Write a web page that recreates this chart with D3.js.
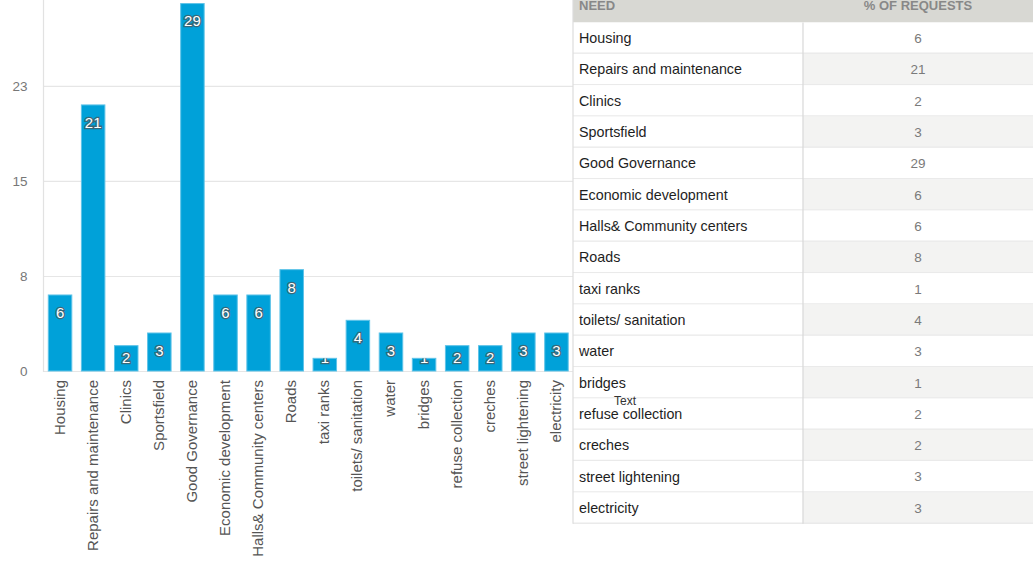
<!DOCTYPE html>
<html>
<head>
<meta charset="utf-8">
<script src="https://cdn.jsdelivr.net/npm/d3@7"></script>
<style>
  html, body { margin: 0; padding: 0; background: #fff; }
  svg { display: block; font-family: "Liberation Sans", Arial, Helvetica, sans-serif; }
</style>
</head>
<body>
<svg id="chart" width="1033" height="573"></svg>
<script>
// Community needs and share of requests
const categories = [
  "Housing", "Repairs and maintenance", "Clinics", "Sportsfield", "Good Governance",
  "Economic development", "Halls& Community centers", "Roads", "taxi ranks",
  "toilets/ sanitation", "water", "bridges", "refuse collection", "creches",
  "street lightening", "electricity"
];
const values = [6, 21, 2, 3, 29, 6, 6, 8, 1, 4, 3, 1, 2, 2, 3, 3];
const yTickValues = [0, 7.5, 15, 22.5];
const tableHeaders = ["NEED", "% OF REQUESTS"];
const tableNote = "Text";

const svg = d3.select("#chart");

// ---- bar chart ----
const plot = { left: 43.5, right: 573, base: 371 };

const x = d3.scaleBand()
  .domain(categories)
  .range([plot.left, plot.right])
  .paddingInner(0.29)
  .paddingOuter(0.145);

const y = d3.scaleLinear()
  .domain([0, 30])
  .range([plot.base, plot.base - 30 * 12.67]);

// horizontal grid lines
const yAxis = d3.axisLeft(y)
  .tickValues(yTickValues)
  .tickFormat(d3.format(".0f"))
  .tickSize(-(plot.right - plot.left))
  .tickPadding(16);

const gy = svg.append("g")
  .attr("transform", `translate(${plot.left},0)`)
  .call(yAxis);
gy.select(".domain").remove();
gy.selectAll(".tick line").attr("stroke", "#e6e6e6").attr("stroke-width", 1.2);
gy.selectAll(".tick text")
  .attr("fill", "#777")
  .style("font-size", "13.5px")
  .style("font-family", "'Liberation Sans', Arial, sans-serif");

// vertical axis rule
svg.append("line")
  .attr("x1", plot.left).attr("x2", plot.left)
  .attr("y1", 0).attr("y2", plot.base + 1)
  .attr("stroke", "#e2e2e2").attr("stroke-width", 1.2);

// bars
const defs = svg.append("defs");
const bars = svg.append("g");

categories.forEach((c, i) => {
  const v = values[i];
  const bx = x(c), bw = x.bandwidth();
  const top = y(v), h = y(0) - y(v);
  bars.append("rect")
    .attr("x", bx).attr("y", top)
    .attr("width", bw).attr("height", h)
    .attr("fill", "#00a1d9")
    .attr("stroke", "#5ec3e8")
    .attr("stroke-width", 1);

  defs.append("clipPath").attr("id", "clip" + i)
    .append("rect")
    .attr("x", bx).attr("y", top)
    .attr("width", bw).attr("height", h);

  const ly = Math.min(top + 17.5, y(0) - 13);
  bars.append("text")
    .attr("clip-path", `url(#clip${i})`)
    .attr("x", bx + bw / 2)
    .attr("y", ly)
    .attr("dy", "0.36em")
    .attr("text-anchor", "middle")
    .attr("fill", "#fff")
    .attr("stroke", "rgba(80,80,80,0.7)")
    .attr("stroke-width", 2.6)
    .attr("paint-order", "stroke")
    .style("font-size", "15px")
    .text(v);
});

// category labels, rotated
const xAxis = d3.axisBottom(x).tickSize(0).tickPadding(0);
const gx = svg.append("g")
  .attr("transform", `translate(0,${plot.base})`)
  .call(xAxis);
gx.select(".domain").remove();
gx.selectAll(".tick text")
  .attr("transform", "translate(0,9) rotate(-90)")
  .attr("text-anchor", "end")
  .attr("x", 0)
  .attr("y", 0)
  .attr("dy", "0.3em")
  .attr("fill", "#555")
  .style("font-size", "15px")
  .style("font-family", "'Liberation Sans', Arial, sans-serif");

// ---- data table ----
const table = { left: 573, right: 1033, headerH: 22.5, rowH: 31.33, divider: 803 };
const tg = svg.append("g");

tg.append("rect")
  .attr("x", table.left).attr("y", 0)
  .attr("width", table.right - table.left).attr("height", table.headerH)
  .attr("fill", "#d8d8d3");

tg.append("text")
  .attr("x", table.left + 6).attr("y", 9.5)
  .attr("fill", "#888")
  .style("font-size", "13px")
  .style("font-weight", "bold")
  .text(tableHeaders[0]);
tg.append("text")
  .attr("x", (table.divider + table.right) / 2).attr("y", 9.5)
  .attr("text-anchor", "middle")
  .attr("fill", "#888")
  .style("font-size", "13px")
  .style("font-weight", "bold")
  .text(tableHeaders[1]);

const rowY = d3.scaleBand()
  .domain(categories)
  .range([table.headerH, table.headerH + table.rowH * categories.length]);

const rows = tg.selectAll("g.row")
  .data(categories)
  .join("g")
  .attr("class", "row")
  .attr("transform", d => `translate(0,${rowY(d)})`);

rows.append("rect")
  .attr("x", table.left).attr("y", 0)
  .attr("width", table.divider - table.left).attr("height", table.rowH)
  .attr("fill", "#fff");
rows.append("rect")
  .attr("x", table.divider).attr("y", 0)
  .attr("width", table.right - table.divider).attr("height", table.rowH)
  .attr("fill", (d, i) => i % 2 ? "#f3f3f2" : "#fff");
rows.append("line")
  .attr("x1", table.left).attr("x2", table.right)
  .attr("y1", table.rowH - 0.5).attr("y2", table.rowH - 0.5)
  .attr("stroke", "#eaeaea").attr("stroke-width", 1.5);

rows.append("text")
  .attr("x", table.left + 6)
  .attr("y", table.rowH / 2)
  .attr("dy", "0.35em")
  .attr("fill", "#1e1e1e")
  .style("font-size", "14.3px")
  .text(d => d);
rows.append("text")
  .attr("x", (table.divider + table.right) / 2)
  .attr("y", table.rowH / 2)
  .attr("dy", "0.35em")
  .attr("text-anchor", "middle")
  .attr("fill", "#7a7a7a")
  .style("font-size", "13.5px")
  .text((d, i) => values[i]);

// table frame lines
const tableBottom = table.headerH + table.rowH * categories.length;
tg.append("line")
  .attr("x1", table.left).attr("x2", table.left)
  .attr("y1", 0).attr("y2", tableBottom)
  .attr("stroke", "#dcdcdc").attr("stroke-width", 1.2);
tg.append("line")
  .attr("x1", table.divider).attr("x2", table.divider)
  .attr("y1", table.headerH).attr("y2", tableBottom)
  .attr("stroke", "#d8d8d8").attr("stroke-width", 1.2);

// floating text note over the table
tg.append("text")
  .attr("x", 625).attr("y", 401)
  .attr("dy", "0.35em")
  .attr("text-anchor", "middle")
  .attr("fill", "#333")
  .style("font-size", "12px")
  .text(tableNote);
</script>
</body>
</html>
